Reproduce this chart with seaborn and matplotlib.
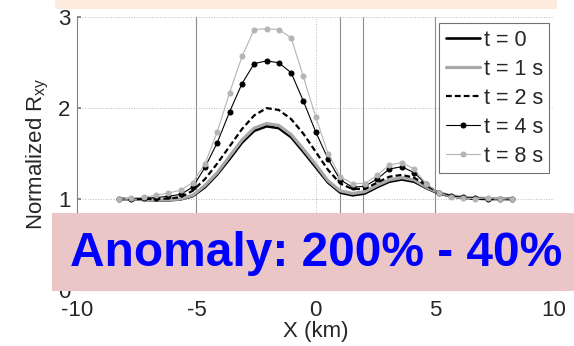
import matplotlib
matplotlib.use("Agg")
import matplotlib.pyplot as plt
from matplotlib.patches import Rectangle
import numpy as np
import pandas as pd
import seaborn as sns

# Sample positions along the profile (km)
x_km = [-8.25, -7.73, -7.22, -6.70, -6.19, -5.67, -5.16, -4.64, -4.13, -3.61,
        -3.09, -2.58, -2.06, -1.55, -1.03, -0.52, 0.00, 0.52, 1.03, 1.55,
        2.06, 2.58, 3.09, 3.61, 4.13, 4.64, 5.16, 5.67, 6.19, 6.70,
        7.22, 7.73, 8.25]

# Normalized Rxy at each time step
rxy_t0 = [1.00, 0.995, 0.99, 0.985, 0.985, 0.995, 1.03, 1.13, 1.27, 1.44,
          1.62, 1.75, 1.80, 1.78, 1.68, 1.52, 1.35, 1.18, 1.07, 1.04,
          1.06, 1.13, 1.19, 1.215, 1.19, 1.12, 1.06, 1.03, 1.015, 1.005,
          1.0, 1.0, 1.0]
rxy_t1 = [1.00, 1.0, 0.995, 0.99, 0.99, 1.0, 1.04, 1.15, 1.29, 1.47,
          1.65, 1.78, 1.83, 1.81, 1.71, 1.55, 1.38, 1.20, 1.09, 1.06,
          1.08, 1.15, 1.21, 1.235, 1.21, 1.13, 1.07, 1.035, 1.02, 1.01,
          1.005, 1.0, 1.0]
rxy_t2 = [1.00, 1.0, 1.0, 1.0, 1.005, 1.02, 1.09, 1.22, 1.39, 1.58,
          1.77, 1.92, 2.00, 1.98, 1.88, 1.72, 1.52, 1.32, 1.17, 1.11,
          1.11, 1.18, 1.245, 1.265, 1.235, 1.15, 1.07, 1.03, 1.01, 1.0,
          1.0, 1.0, 1.0]
rxy_t4 = [1.00, 1.005, 1.01, 1.015, 1.03, 1.05, 1.13, 1.35, 1.62, 1.96,
          2.27, 2.49, 2.52, 2.50, 2.39, 2.08, 1.74, 1.44, 1.21, 1.13,
          1.14, 1.22, 1.33, 1.355, 1.29, 1.16, 1.07, 1.03, 1.02, 1.01,
          1.005, 1.0, 1.0]
rxy_t8 = [0.995, 1.01, 1.02, 1.04, 1.065, 1.095, 1.18, 1.39, 1.74, 2.17,
          2.57, 2.865, 2.875, 2.865, 2.775, 2.35, 1.905, 1.50, 1.245, 1.17,
          1.17, 1.26, 1.375, 1.40, 1.33, 1.165, 1.07, 1.02, 1.01, 1.005,
          1.01, 1.005, 1.0]

series_names = ["t = 0", "t = 1 s", "t = 2 s", "t = 4 s", "t = 8 s"]
series_vals = [rxy_t0, rxy_t1, rxy_t2, rxy_t4, rxy_t8]

# Reference boundaries marked on the profile (km)
boundaries_km = [-5, 1, 2, 5]

x_ticks = [-10, -5, 0, 5, 10]
y_ticks = [0, 1, 2, 3]
banner_text = "Anomaly: 200% - 40%"

df = pd.DataFrame({
    "x": np.tile(x_km, len(series_names)),
    "rxy": np.concatenate(series_vals),
    "series": np.repeat(series_names, len(x_km)),
})

sns.set_theme(style="white")
plt.rcParams["font.family"] = ["Liberation Sans", "DejaVu Sans"]
plt.rcParams["mathtext.fontset"] = "custom"
plt.rcParams["mathtext.rm"] = "Liberation Sans"
plt.rcParams["mathtext.it"] = "Liberation Sans"
plt.rcParams["axes.unicode_minus"] = False

fig = plt.figure(figsize=(5.74, 3.46), dpi=100)
ax = fig.add_axes([0.1347, 0.1624, 0.8305, 0.7876])

styles = {
    "t = 0":   dict(color="black", lw=1.9, ls="-", marker=None),
    "t = 1 s": dict(color="#a8a8a8", lw=2.3, ls="-", marker=None),
    "t = 2 s": dict(color="black", lw=1.6, ls=(0, (2.6, 1.4)), marker=None),
    "t = 4 s": dict(color="black", lw=0.8, ls="-", marker="o", ms=3.6),
    "t = 8 s": dict(color="#b4b4b4", lw=0.8, ls="-", marker="o", ms=3.6),
}

for name in series_names:
    st = styles[name]
    sub = df[df["series"] == name]
    kw = dict(color=st["color"], lw=st["lw"], linestyle=st["ls"], label=name)
    if st["marker"]:
        kw.update(marker=st["marker"], markersize=st["ms"],
                  markeredgecolor=st["color"], markerfacecolor=st["color"])
    sns.lineplot(data=sub, x="x", y="rxy", ax=ax, zorder=3, **kw)

for xb in boundaries_km:
    ax.axvline(xb, color="#8c8c8c", lw=0.8, zorder=2)

ax.set_xlim(-10, 10)
ax.set_ylim(0, 3)
ax.set_xticks(x_ticks)
ax.set_yticks(y_ticks)
ax.grid(True, color="#bdbdbd", ls=":", lw=0.7)
for side in ["top", "right"]:
    ax.spines[side].set_visible(False)
for side in ["left", "bottom"]:
    ax.spines[side].set_color("#808080")
    ax.spines[side].set_linewidth(0.8)
ax.tick_params(direction="in", length=3, color="#808080", labelsize=16,
               left=True, bottom=True)
ax.tick_params(axis="y", pad=5)
ax.tick_params(axis="x", pad=7)

ax.set_xlabel("X (km)", fontsize=16, labelpad=0)
ax.set_ylabel(r"Normalized R$_\mathregular{xy}$", fontsize=16)
ax.yaxis.set_label_coords(-0.055, 0.5)

leg = ax.legend(loc="upper right", bbox_to_anchor=(549.3 / 574, 1 - 23.3 / 346),
                bbox_transform=fig.transFigure, borderaxespad=0,
                fontsize=15.5, frameon=True, fancybox=False,
                handlelength=1.6, handletextpad=0.15, labelspacing=0.37,
                borderpad=0.3)
leg.get_frame().set_edgecolor("#707070")
leg.get_frame().set_linewidth(0.8)
leg.get_frame().set_alpha(1)
leg.set_zorder(4)

# Header strip and annotation banner laid over the figure
fig.add_artist(Rectangle((55 / 574, 1 - 9.3 / 346), (556.7 - 55) / 574, 9.3 / 346,
                         transform=fig.transFigure, facecolor="#fdebde",
                         edgecolor="none", zorder=5))
fig.add_artist(Rectangle((51.7 / 574, 1 - 290.7 / 346), (574 - 51.7) / 574,
                         (290.7 - 212.8) / 346, transform=fig.transFigure,
                         facecolor="#ebc6c6", edgecolor="none", zorder=5))
fig.text(316 / 574, 1 - 254 / 346, banner_text, color="#0000ff",
         fontsize=34.5, fontweight="bold", ha="center", va="center", zorder=6)

fig.savefig("out.png", dpi=100)
